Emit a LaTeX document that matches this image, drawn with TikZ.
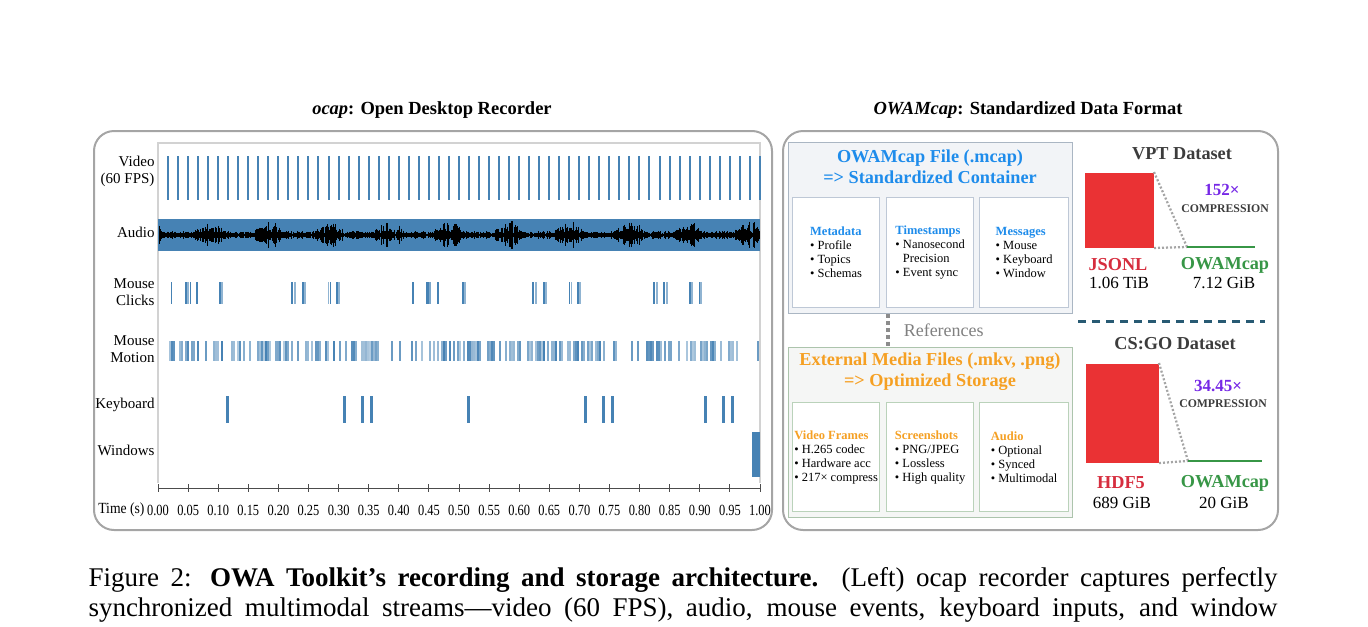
\documentclass[tikz,border=0pt]{standalone}
\usepackage{fontspec}
\setmainfont{Liberation Serif}
\usetikzlibrary{positioning}
\definecolor{steel}{RGB}{70,130,180}
\definecolor{frame}{RGB}{165,165,165}
\definecolor{gridgray}{RGB}{210,210,210}
\definecolor{sky}{RGB}{30,140,235}
\definecolor{tangerine}{RGB}{245,160,35}
\definecolor{mcapfill}{RGB}{242,244,247}
\definecolor{mcapline}{RGB}{170,182,195}
\definecolor{mcapsub}{RGB}{190,200,214}
\definecolor{mediafill}{RGB}{245,246,245}
\definecolor{medialine}{RGB}{172,196,172}
\definecolor{mediasub}{RGB}{186,210,186}
\definecolor{ruby}{RGB}{234,50,52}
\definecolor{rubytext}{RGB}{214,45,62}
\definecolor{leaf}{RGB}{55,150,70}
\definecolor{gaincol}{RGB}{118,40,230}
\definecolor{slate}{RGB}{60,60,60}
\definecolor{divider}{RGB}{40,90,115}
\definecolor{dots}{RGB}{165,165,165}
\def\pxu{0.4pt}
\tikzset{
  panel/.style={draw=frame,line width=0.8pt,rounded corners=8pt,anchor=north west,inner sep=0pt},
  ptitle/.style={font=\fontsize{7.4}{8.8}\selectfont\bfseries},
  rowlab/.style={anchor=east,align=right,inner sep=0pt,font=\fontsize{6}{6.8}\selectfont},
  tlab/.style={inner sep=0pt,font=\fontsize{6.2}{7}\selectfont},
  wave/.style={black,line width=0.4pt},
  cont/.style={draw=#1,line width=0.5pt,anchor=north west,inner sep=0pt,minimum width=284*\pxu},
  ctitle/.style={text=#1,align=center,inner sep=0pt,font=\fontsize{7.3}{8.3}\selectfont\bfseries},
  subbox/.style={draw=#1,fill=white,line width=0.5pt,anchor=north west,align=left,inner sep=0pt,
    minimum height=110*\pxu,font=\fontsize{5}{5.6}\selectfont},
  refline/.style={gray!90,line width=1.4pt,dash pattern=on 1.6pt off 1.2pt},
  dataset/.style={text=slate,font=\fontsize{7.3}{8.8}\selectfont\bfseries},
  bigbar/.style={fill=ruby,anchor=north west,inner sep=0pt},
  shrink/.style={dots,line width=0.9pt,dash pattern=on 0.8pt off 0.8pt},
  slim/.style={leaf,line width=1pt},
  gain/.style={text=gaincol,inner sep=0pt,font=\fontsize{6.8}{8}\selectfont\bfseries},
  cmp/.style={text=slate,inner sep=0pt,font=\fontsize{4.7}{5.6}\selectfont\bfseries},
  fmt/.style={text=#1,inner sep=0pt,font=\fontsize{7.3}{8.8}\selectfont\bfseries},
  volume/.style={inner sep=0pt,font=\fontsize{6.8}{8}\selectfont},
  capline/.style={anchor=west,inner sep=0pt,font=\fontsize{10.8}{13}\selectfont},
}

\begin{document}
\begin{tikzpicture}[x=0.4pt,y=-0.4pt]
  \useasboundingbox (0,0) rectangle (1368,627);
  % left panel: ocap streams
  \node[panel,minimum width=678*\pxu,minimum height=399*\pxu] (lpanel) at (93,130) {};
  \node[ptitle] (ltitle) at (432,110) {\textit{ocap}: Open Desktop Recorder};
  \node[rowlab] (lvideo) at (155,171) {Video\\(60 FPS)};
  \node[rowlab] (laudio) at (155,232) {Audio};
  \node[rowlab] (lclicks) at (155,292) {Mouse\\Clicks};
  \node[rowlab] (lmotion) at (155,349) {Mouse\\Motion};
  \node[rowlab] (lkeys) at (155,405) {Keyboard};
  \node[rowlab] (lwin) at (155,450) {Windows};
  \draw[gridgray,line width=0.5pt] (158,483) -- (158,143) -- (760,143) -- (760,483);
  \foreach \i in {1,...,60}
    \fill[steel] (158+10.03*\i-1,156) rectangle ++(2,44);
  \fill[steel] (158,219) rectangle (760,251);
  \pgfmathsetseed{11}
  \foreach \x in {159,...,759}{
    \pgfmathsetmacro\ph{mod(\x+45,60)}
    \pgfmathsetmacro\am{1.4+2.4*rnd+11*rnd*max(0,1-((\ph-15)/14)^2)+2.5*max(0,1-((\ph-1)/2.5)^2)}
    \draw[wave] (\x,235-\am) -- (\x,235+\am);
  }
  \foreach \x/\op in {171.5/1,186/1,188/.6,190.5/1,197/1,220/1,221.8/.6,291.8/1,294.8/.6,302.8/1,305.2/.6,
      328.3/.6,330.5/1,336.7/1,338.9/.6,413/1,427/1,428.6/1,430.2/.7,438/1,463/1,465/.6,532.7/1,535.8/.6,
      543.7/1,545.9/.6,569.3/1,571.5/.6,578.1/1,580/.6,654/1,657/.6,664/1,667/.6,690/1,692.2/.6,699.3/1,701/.6}
    \fill[steel,opacity=\op] (\x-0.8,282) rectangle ++(1.6,22);
  \foreach \x in {170,172,...,378,408,410,...,618,641,643,...,738}{
    \pgfmathsetmacro\rr{rnd}
    \ifdim\rr pt<0.6pt
      \pgfmathsetmacro\op{0.4+0.6*rnd}
      \fill[steel,opacity=\op] (\x-0.6,341) rectangle ++(1.3,20);
    \fi
  }
  \foreach \x in {392,400,632,638,758}
    \fill[steel,opacity=.8] (\x-0.6,341) rectangle ++(1.3,20);
  \foreach \t in {0.115,0.31,0.34,0.355,0.515,0.71,0.74,0.755,0.91,0.94,0.955}
    \fill[steel] (158+602*\t-1.5,396) rectangle ++(3,27);
  \fill[steel] (752,432) rectangle (760,477);
  \draw[black!70,line width=0.4pt] (158,488) -- (760,488);
  \node[tlab,anchor=east] (ltime) at (145,510) {\scalebox{0.88}[1]{Time (s)}};
  \foreach \i/\lab in {0/0.00,1/0.05,2/0.10,3/0.15,4/0.20,5/0.25,6/0.30,7/0.35,8/0.40,9/0.45,10/0.50,
      11/0.55,12/0.60,13/0.65,14/0.70,15/0.75,16/0.80,17/0.85,18/0.90,19/0.95,20/1.00}{
    \draw[black!70,line width=0.4pt] (158+30.1*\i,484) -- ++(0,8);
    \node[tlab] (tick\i) at (158+30.1*\i,510) {\scalebox{0.8}[1]{\lab}};
  }
  % right panel: OWAMcap format
  \node[panel,minimum width=495*\pxu,minimum height=399*\pxu] (rpanel) at (782,130) {};
  \node[ptitle] (rtitle) at (1028,110) {\textit{OWAMcap}: Standardized Data Format};
  \node[cont=mcapline,fill=mcapfill,minimum height=171*\pxu] (mcap) at (788,142) {};
  \node[ctitle=sky] (mcaptitle) at (930,167) {OWAMcap File (.mcap)\\=> Standardized Container};
  \node[subbox=mcapsub,minimum width=87*\pxu] (meta) at (792,197)
    {\textcolor{sky}{\bfseries Metadata}\\\textbullet\ Profile\\\textbullet\ Topics\\\textbullet\ Schemas};
  \node[subbox=mcapsub,minimum width=87*\pxu] (stamps) at (886,197)
    {\textcolor{sky}{\bfseries Timestamps}\\\textbullet\ Nanosecond\\\hphantom{\textbullet\ }Precision\\\textbullet\ Event sync};
  \node[subbox=mcapsub,minimum width=89*\pxu] (msgs) at (979,197)
    {\textcolor{sky}{\bfseries Messages}\\\textbullet\ Mouse\\\textbullet\ Keyboard\\\textbullet\ Window};
  \node[cont=medialine,fill=mediafill,minimum height=170*\pxu] (media) at (788,347) {};
  \node[ctitle=tangerine] (mediatitle) at (930,372) {External Media Files (.mkv, .png)\\=> Optimized Storage};
  \node[subbox=mediasub,minimum width=87*\pxu,minimum height=109*\pxu] (frames) at (792,402)
    {\textcolor{tangerine}{\bfseries Video Frames}\\\textbullet\ H.265 codec\\\textbullet\ Hardware acc\\\textbullet\ 217× compress};
  \node[subbox=mediasub,minimum width=87*\pxu,minimum height=109*\pxu] (shots) at (886,402)
    {\textcolor{tangerine}{\bfseries Screenshots}\\\textbullet\ PNG/JPEG\\\textbullet\ Lossless\\\textbullet\ High quality};
  \node[subbox=mediasub,minimum width=89*\pxu,minimum height=109*\pxu] (sound) at (979,402)
    {\textcolor{tangerine}{\bfseries Audio}\\\textbullet\ Optional\\\textbullet\ Synced\\\textbullet\ Multimodal};
  \coordinate (refx) at (888,0);
  \draw[refline] (mcap.south -| refx) -- (media.north -| refx)
    node[midway,right=5.6pt,inner sep=0pt,text=gray,font=\fontsize{7.2}{8}\selectfont] (refs) {References};
  % compression bars
  \node[dataset] (vpt) at (1182,154) {VPT Dataset};
  \node[bigbar,minimum width=69*\pxu,minimum height=75*\pxu] (jsonl) at (1084,172) {};
  \coordinate (vpta) at (1187,247);
  \coordinate (vptb) at (1255,247);
  \draw[shrink] (jsonl.north east) -- (vpta);
  \draw[shrink] (jsonl.south east) -- (vpta);
  \draw[slim] (vpta) -- (vptb);
  \node[gain] (vptgain) at (1222,190) {152×};
  \node[cmp] (vptcmp) at (1225,209) {COMPRESSION};
  \node[fmt=rubytext] (jsonlname) at (1118,265) {JSONL};
  \node[volume] (jsonlsize) at (1119,283) {1.06 TiB};
  \node[fmt=leaf] (vptowa) at (1225,265) {OWAMcap};
  \node[volume] (vptowasize) at (1224,283) {7.12 GiB};
  \draw[divider,line width=1.2pt,dash pattern=on 3.2pt off 2.4pt] (1078,321) -- (1265,321);
  \node[dataset] (csgo) at (1175,344) {CS:GO Dataset};
  \node[bigbar,minimum width=73*\pxu,minimum height=99*\pxu] (hdf) at (1085,363) {};
  \coordinate (csgoa) at (1188,461);
  \coordinate (csgob) at (1262,461);
  \draw[shrink] (hdf.north east) -- (csgoa);
  \draw[shrink] (hdf.south east) -- (csgoa);
  \draw[slim] (csgoa) -- (csgob);
  \node[gain] (csgogain) at (1218,386) {34.45×};
  \node[cmp] (csgocmp) at (1223,404) {COMPRESSION};
  \node[fmt=rubytext] (hdfname) at (1121,483) {HDF5};
  \node[volume] (hdfsize) at (1122,503) {689 GiB};
  \node[fmt=leaf] (csgoowa) at (1225,483) {OWAMcap};
  \node[volume] (csgoowasize) at (1224,503) {20 GiB};
  % caption
  \node[capline] (cap1) at (88,580) {\makebox[475.6pt][s]{Figure 2: \textbf{OWA Toolkit’s recording and storage architecture.} (Left) ocap recorder captures perfectly}};
  \node[capline] (cap2) at (88,610) {\makebox[475.6pt][s]{synchronized multimodal streams—video (60 FPS), audio, mouse events, keyboard inputs, and window}};
\end{tikzpicture}
\end{document}
